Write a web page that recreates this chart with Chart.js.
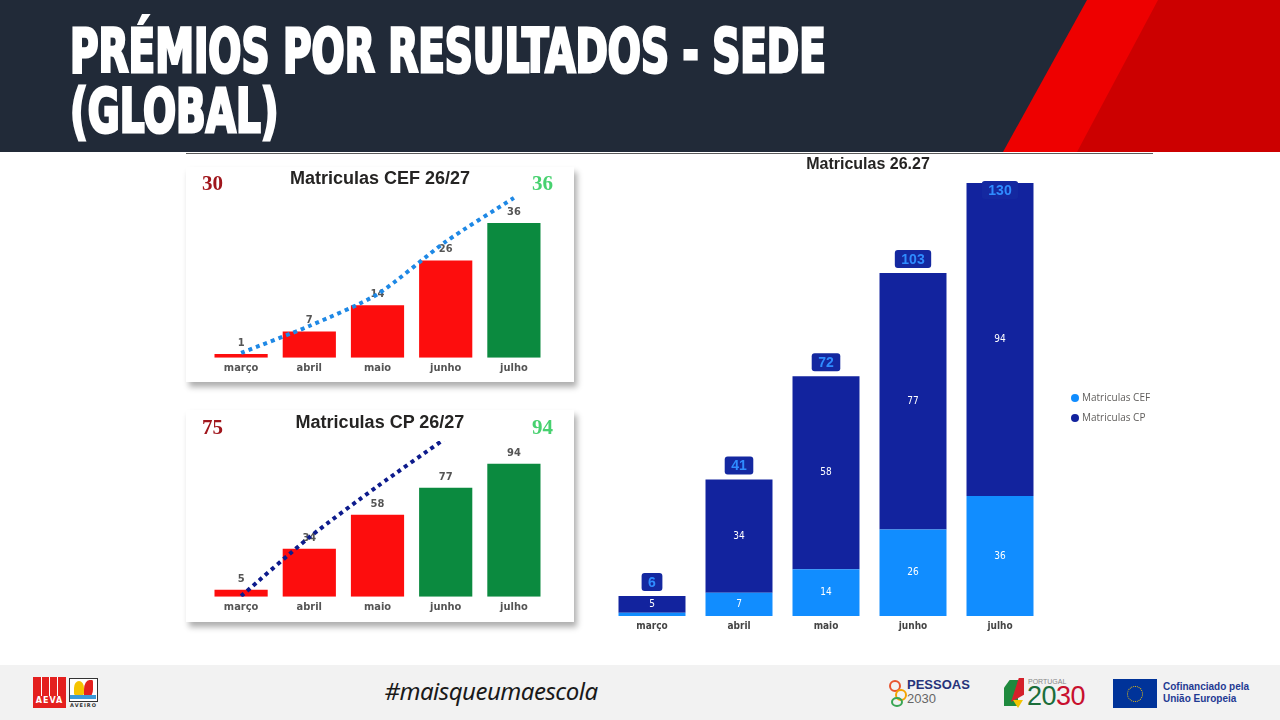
<!DOCTYPE html>
<html lang="pt">
<head>
<meta charset="utf-8">
<title>Prémios por resultados - Sede (Global)</title>
<script src="https://cdn.jsdelivr.net/npm/chart.js@4.4.1/dist/chart.umd.min.js"></script>
<style>
  html, body { margin: 0; padding: 0; }
  body { width: 1280px; height: 720px; position: relative; overflow: hidden; background: #fff; font-family: "Open Sans", sans-serif; }
  .abs { position: absolute; }
  #header { left: 0; top: 0; width: 1280px; height: 152px; background: #212a38; overflow: hidden; }
  #stripeLight { left: 0; top: 0; width: 1280px; height: 152px; background: #ee0000;
    clip-path: polygon(1087px 0, 1280px 0, 1280px 152px, 1003px 152px); }
  #stripeDark { left: 0; top: 0; width: 1280px; height: 152px; background: #cc0000;
    clip-path: polygon(1158px 0, 1280px 0, 1280px 152px, 1077px 152px); }
  .headline { left: 70px; color: #fff; font: bold 60px/60px "DejaVu Sans Condensed", sans-serif;
    -webkit-text-stroke: 3px #fff; white-space: nowrap; transform-origin: 0 0; }
  #rule { left: 186px; top: 153px; width: 967px; height: 1px; background: #5a5a5a; }

  .panel { left: 186px; width: 388px; background: #fff; box-shadow: 3px 5px 6px rgba(0, 0, 0, 0.32); }
  .panel-title { left: 0; width: 388px; text-align: center; color: #252423;
    font: bold 18px/20px "Liberation Sans Narrow", sans-serif; }
  .kpi { font: bold 21px/20px "Liberation Serif", serif; }
  .kpi.target { color: #a0161c; }
  .kpi.actual { color: #47d16f; }

  #totalTitle { left: 740px; width: 256px; top: 154px; text-align: center; color: #252423;
    font: bold 16px/20px "Liberation Sans Narrow", sans-serif; }
  .legend-item { left: 1071px; font: 10px/12px "Open Sans", sans-serif; color: #605e5c; white-space: nowrap; }
  .legend-item i { display: inline-block; width: 8px; height: 8px; border-radius: 50%; margin-right: 3px; vertical-align: -1px; }

  #footer { left: 0; top: 665px; width: 1280px; height: 55px; background: #f2f2f2; }
  #tag { left: 364px; width: 254px; top: 675px; text-align: center; color: #1a1a1a;
    font: italic 24px/32px "Noto Sans", sans-serif; letter-spacing: -0.5px; }
</style>
</head>
<body>

<div id="header" class="abs">
  <div id="stripeLight" class="abs"></div>
  <div id="stripeDark" class="abs"></div>
  <div id="line1" class="abs headline" style="top:21px">PRÉMIOS POR RESULTADOS - SEDE</div>
  <div id="line2" class="abs headline" style="top:81px">(GLOBAL)</div>
</div>
<div id="rule" class="abs"></div>

<!-- painel CEF -->
<div class="abs panel" style="top:167px; height:215px">
  <canvas id="cefChart" width="388" height="215"></canvas>
  <div class="abs panel-title" style="top:1px">Matriculas CEF 26/27</div>
  <div class="abs kpi target" id="cefTargetTxt" style="left:16px; top:6px"></div>
  <div class="abs kpi actual" id="cefActualTxt" style="left:346px; top:6px"></div>
</div>

<!-- painel CP -->
<div class="abs panel" style="top:410px; height:212px">
  <canvas id="cpChart" width="388" height="212"></canvas>
  <div class="abs panel-title" style="top:2px">Matriculas CP 26/27</div>
  <div class="abs kpi target" id="cpTargetTxt" style="left:16px; top:7px"></div>
  <div class="abs kpi actual" id="cpActualTxt" style="left:346px; top:7px"></div>
</div>

<!-- total empilhado -->
<canvas id="totalChart" class="abs" style="left:600px; top:150px" width="560" height="490"></canvas>
<div id="totalTitle" class="abs">Matriculas 26.27</div>
<div class="abs legend-item" style="top:391px"><i style="background:#118dff"></i>Matriculas CEF</div>
<div class="abs legend-item" style="top:411px"><i style="background:#12239e"></i>Matriculas CP</div>

<div id="footer" class="abs"></div>
<div id="tag" class="abs">#maisqueumaescola</div>

<!-- logótipos (aproximados) -->
<div class="abs" style="left:33px; top:677px; width:33px; height:31px; background:#e4201f;"></div>
<div class="abs" style="left:41px; top:677px; width:1px; height:19px; background:#fff;"></div>
<div class="abs" style="left:49px; top:677px; width:1px; height:19px; background:#fff;"></div>
<div class="abs" style="left:57px; top:677px; width:1px; height:19px; background:#fff;"></div>
<div class="abs" style="left:33px; top:696px; width:33px; text-align:center; color:#fff; font:bold 8px/10px 'DejaVu Sans', sans-serif; letter-spacing:1px;">AEVA</div>
<div class="abs" style="left:69px; top:678px; width:27px; height:22px; border:1px solid #333; background:#fff;"></div>
<div class="abs" style="left:74px; top:681px; width:10px; height:14px; background:#f5c400; border-radius:50% 50% 10% 10%;"></div>
<div class="abs" style="left:84px; top:680px; width:9px; height:16px; background:#e4201f; border-radius:60% 10% 40% 10%;"></div>
<div class="abs" style="left:70px; top:695px; width:26px; height:4px; background:#3b9ad9;"></div>
<div class="abs" style="left:69px; top:702px; width:29px; text-align:center; color:#333; font:bold 5px/6px 'DejaVu Sans', sans-serif; letter-spacing:1px;">AVEIRO</div>

<div class="abs" style="left:889px; top:680px; width:8px; height:8px; border:2px solid #e8542f; border-radius:50%;"></div>
<div class="abs" style="left:895px; top:689px; width:8px; height:8px; border:2px solid #f4a300; border-radius:50%;"></div>
<div class="abs" style="left:891px; top:697px; width:8px; height:6px; border:2px solid #3aa655; border-radius:50%;"></div>
<div class="abs" style="left:907px; top:678px; color:#26337a; font:bold 13px/14px 'Liberation Sans Narrow', sans-serif;">PESSOAS</div>
<div class="abs" style="left:907px; top:692px; color:#666; font:13px/14px 'Liberation Sans Narrow', sans-serif;">2030</div>

<div class="abs" style="left:1004px; top:680px; width:14px; height:26px; background:#1f8a3e; clip-path:polygon(40% 0,100% 0,100% 100%,0 100%,0 30%);"></div>
<div class="abs" style="left:1011px; top:678px; width:13px; height:24px; background:#d4202a; clip-path:polygon(60% 0,100% 0,100% 70%,0 100%);"></div>
<div class="abs" style="left:1013px; top:700px; width:10px; height:8px; background:#f4c300; clip-path:polygon(0 0,100% 0,50% 100%);"></div>
<div class="abs" style="left:1028px; top:678px; color:#888; font:7px/8px 'Liberation Sans Narrow', sans-serif;">PORTUGAL</div>
<div class="abs" style="left:1027px; top:682px; font:27px/28px 'Liberation Sans Narrow', sans-serif; letter-spacing:-0.5px;"><span style="color:#1b6e3a">20</span><span style="color:#c8102e">30</span></div>

<div class="abs" style="left:1113px; top:679px; width:44px; height:29px; background:#003399;"></div>
<div class="abs" style="left:1127px; top:686px; width:14px; height:14px; border:1px dotted #ffcc00; border-radius:50%;"></div>
<div class="abs" style="left:1163px; top:681px; color:#1f3a93; font:bold 10px/12px 'Liberation Sans', sans-serif;">Cofinanciado pela<br>União Europeia</div>

<script>
// dados
const months = ['março', 'abril', 'maio', 'junho', 'julho'];
const cefValues = [1, 7, 14, 26, 36];
const cpValues = [5, 34, 58, 77, 94];
const totalValues = [6, 41, 72, 103, 130];
const cefTrend = [1.3, 8.5, 17, 31, 42.7];
const cpTrend = [0.5, 42, 78, 112, 146];
const cefTarget = 30;
const cpTarget = 75;
const cefAxisMax = 44;
const cpAxisMax = 110;
const totalAxisMax = 130;

const RED = '#fd0d0d';
const GREEN = '#0b8a3f';

document.getElementById('cefTargetTxt').textContent = cefTarget;
document.getElementById('cefActualTxt').textContent = cefValues[cefValues.length - 1];
document.getElementById('cpTargetTxt').textContent = cpTarget;
document.getElementById('cpActualTxt').textContent = cpValues[cpValues.length - 1];

// título do cabeçalho: fonte condensada
(function fitHeadline() {
  const l1 = document.getElementById('line1');
  const l2 = document.getElementById('line2');
  const k = 756 / l1.offsetWidth;
  l1.style.transform = l2.style.transform = `scaleX(${k})`;
})();

// rótulos por cima das barras (painéis pequenos)
const valueLabels = {
  id: 'valueLabels',
  beforeDatasetsDraw(chart) {
    const ctx = chart.ctx;
    const meta = chart.getDatasetMeta(0);
    const data = chart.data.datasets[0].data;
    ctx.save();
    ctx.font = 'bold 11px "DejaVu Sans Condensed"';
    ctx.fillStyle = '#555';
    ctx.textAlign = 'center';
    ctx.textBaseline = 'middle';
    meta.data.forEach((bar, i) => ctx.fillText(data[i], bar.x, bar.y - 11));
    ctx.restore();
  },
};

function panelChart(canvasId, values, trend, target, yMax, trendColor, pad) {
  return new Chart(document.getElementById(canvasId), {
    type: 'bar',
    data: {
      labels: months,
      datasets: [
        {
          type: 'bar',
          data: values,
          backgroundColor: values.map(v => (v >= target ? GREEN : RED)),
          categoryPercentage: 1,
          barPercentage: 0.78,
          order: 1,
        },
        {
          type: 'line',
          data: trend,
          borderColor: trendColor,
          borderWidth: 4,
          borderDash: [4, 4],
          pointRadius: 0,
          tension: 0.25,
          order: 0,
        },
      ],
    },
    options: {
      responsive: false,
      animation: false,
      layout: { padding: pad },
      plugins: { legend: { display: false }, tooltip: { enabled: false } },
      scales: {
        x: {
          grid: { display: false, drawTicks: false },
          border: { display: false },
          ticks: { color: '#555', padding: 4, font: { family: 'DejaVu Sans Condensed', size: 11, weight: 'bold' } },
        },
        y: { display: false, min: 0, max: yMax },
      },
    },
    plugins: [valueLabels],
  });
}

panelChart('cefChart', cefValues, cefTrend, cefTarget, cefAxisMax, '#1e88e5',
  { left: 21, right: 26, top: 26, bottom: 3 });
panelChart('cpChart', cpValues, cpTrend, cpTarget, cpAxisMax, '#0d1b8c',
  { left: 21, right: 26, top: 31, bottom: 4 });

// rótulos do gráfico empilhado
const stackLabels = {
  id: 'stackLabels',
  afterDatasetsDraw(chart) {
    const ctx = chart.ctx;
    const area = chart.chartArea;
    ctx.save();
    ctx.textAlign = 'center';
    ctx.textBaseline = 'middle';
    ctx.font = '10px "DejaVu Sans Condensed"';
    ctx.fillStyle = '#fff';
    chart.data.datasets.forEach((ds, d) => {
      chart.getDatasetMeta(d).data.forEach((bar, i) => {
        if (Math.abs(bar.base - bar.y) < 10) return;
        ctx.fillText(ds.data[i], bar.x, (bar.y + bar.base) / 2);
      });
    });
    const tops = chart.getDatasetMeta(chart.data.datasets.length - 1).data;
    ctx.font = 'bold 14px "Liberation Sans"';
    tops.forEach((bar, i) => {
      const text = String(totalValues[i]);
      const w = ctx.measureText(text).width + 13;
      const h = 18;
      let y0 = bar.y - 5 - h;
      if (y0 < area.top - 10) y0 = bar.y - 2;
      ctx.fillStyle = '#1428a0';
      ctx.beginPath();
      ctx.roundRect(bar.x - w / 2, y0, w, h, 3);
      ctx.fill();
      ctx.fillStyle = '#2f8cff';
      ctx.fillText(text, bar.x, y0 + h / 2 + 1);
    });
    ctx.restore();
  },
};

new Chart(document.getElementById('totalChart'), {
  type: 'bar',
  data: {
    labels: months,
    datasets: [
      { label: 'Matriculas CEF', data: cefValues, backgroundColor: '#118dff' },
      { label: 'Matriculas CP', data: cpValues, backgroundColor: '#12239e' },
    ],
  },
  options: {
    responsive: false,
    animation: false,
    layout: { padding: { left: 8.5, right: 116.5, top: 33, bottom: 4 } },
    datasets: { bar: { categoryPercentage: 1, barPercentage: 0.77 } },
    plugins: { legend: { display: false }, tooltip: { enabled: false } },
    scales: {
      x: {
        stacked: true,
        grid: { display: false, drawTicks: false },
        border: { display: false },
        ticks: { color: '#444', padding: 4, font: { family: 'DejaVu Sans Condensed', size: 10, weight: 'bold' } },
      },
      y: { stacked: true, display: false, min: 0, max: totalAxisMax },
    },
  },
  plugins: [stackLabels],
});
</script>
</body>
</html>
